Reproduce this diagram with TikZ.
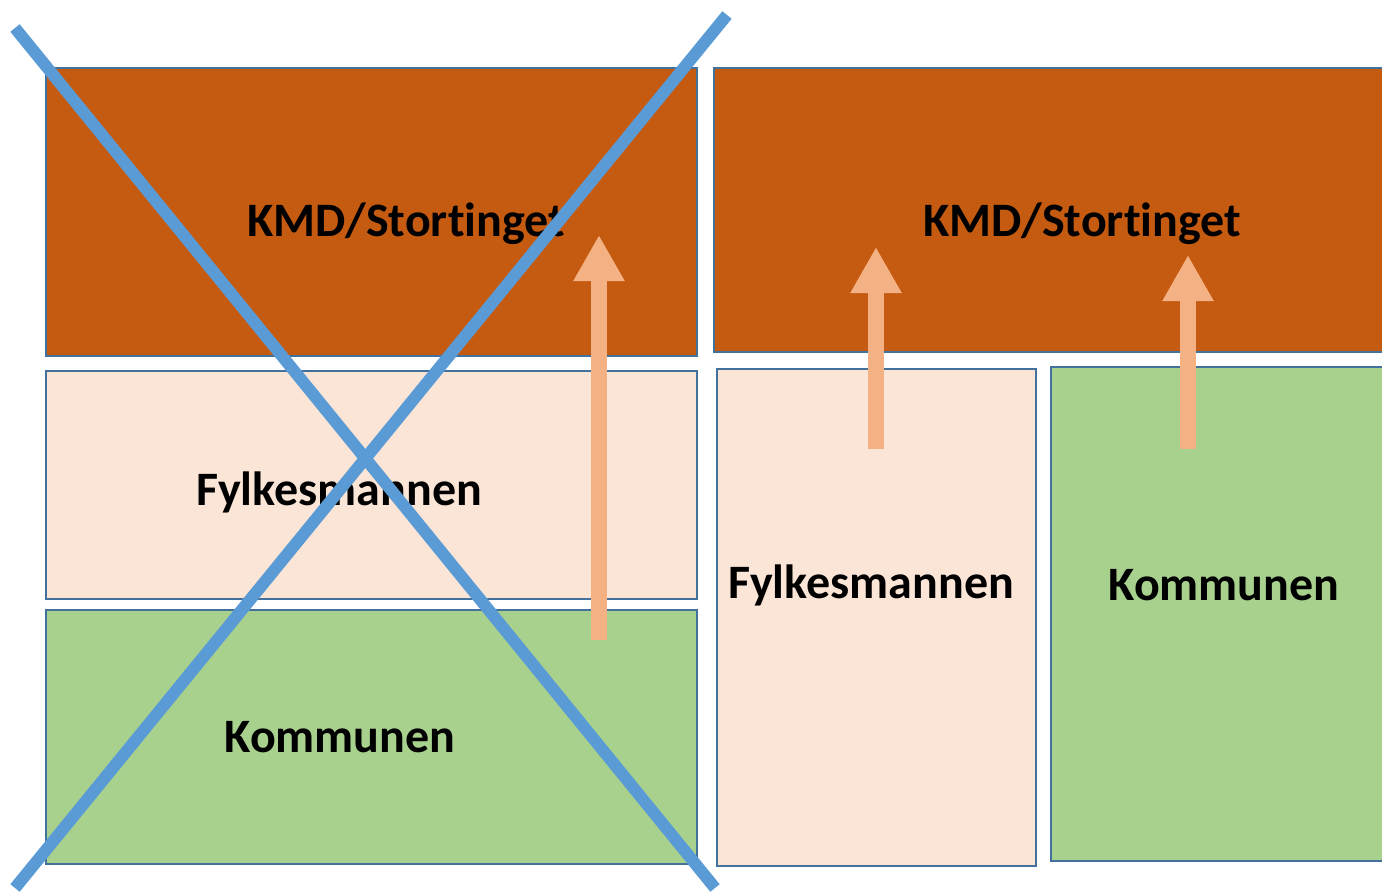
\documentclass[tikz,border=0pt]{standalone}
\usepackage{fontspec}
\setmainfont{Carlito}[Ligatures=NoCommon]
\usetikzlibrary{arrows.meta}
\definecolor{kmd}{HTML}{C55A11}
\definecolor{fylke}{HTML}{FBE5D6}
\definecolor{komm}{HTML}{A9D18E}
\definecolor{edge}{HTML}{41719C}
\definecolor{arr}{HTML}{F4B183}
\definecolor{cross}{HTML}{5B9BD5}
\begin{document}
\begin{tikzpicture}[x=1pt,y=-1pt,
  box/.style={draw=edge,line width=2.5pt,inner sep=0pt},
  lbl/.style={font=\fontsize{48}{52}\selectfont\bfseries,text=black,inner sep=0pt},
  uparrow/.style={draw=arr,line width=16pt,-{Triangle[width=48pt,length=46pt]}},
  crossline/.style={draw=cross,line width=12pt}]
\useasboundingbox (0,0) rectangle (1382,894);
\begin{scope}
\clip (0,0) rectangle (1382,894);
% left column
\draw[box,fill=kmd] (46,68) rectangle (697,356);
\draw[box,fill=fylke] (46,371) rectangle (697,599);
\draw[box,fill=komm] (46,610) rectangle (697,864);
% right column
\draw[box,fill=kmd] (714,68) rectangle (1400,352);
\draw[box,fill=fylke] (717,369) rectangle (1036,866);
\draw[box,fill=komm] (1051,367) rectangle (1400,861);
\end{scope}
\node[lbl] (lk) at (406,224) {KMD/Stortinget};
\node[lbl] (lf) at (339,492) {Fylkesmannen};
\node[lbl] (lc) at (340,737) {Kommunen};
\node[lbl] (rk) at (1082,224) {KMD/Stortinget};
\node[lbl] (rf) at (871,585) {Fylkesmannen};
\node[lbl] (rc) at (1224,585) {Kommunen};
% arrows
\coordinate (a1s) at (599,640); \coordinate (a1e) at (599,235);
\coordinate (a2s) at (876,449); \coordinate (a2e) at (876,247);
\coordinate (a3s) at (1188,449); \coordinate (a3e) at (1188,255);
\draw[uparrow] (a1s) -- (a1e);
\draw[uparrow] (a2s) -- (a2e);
\draw[uparrow] (a3s) -- (a3e);
% cross
\coordinate (c1a) at (15,28); \coordinate (c1b) at (715,888);
\coordinate (c2a) at (727,15); \coordinate (c2b) at (15,888);
\draw[crossline] (c1a) -- (c1b);
\draw[crossline] (c2a) -- (c2b);
\end{tikzpicture}
\end{document}
